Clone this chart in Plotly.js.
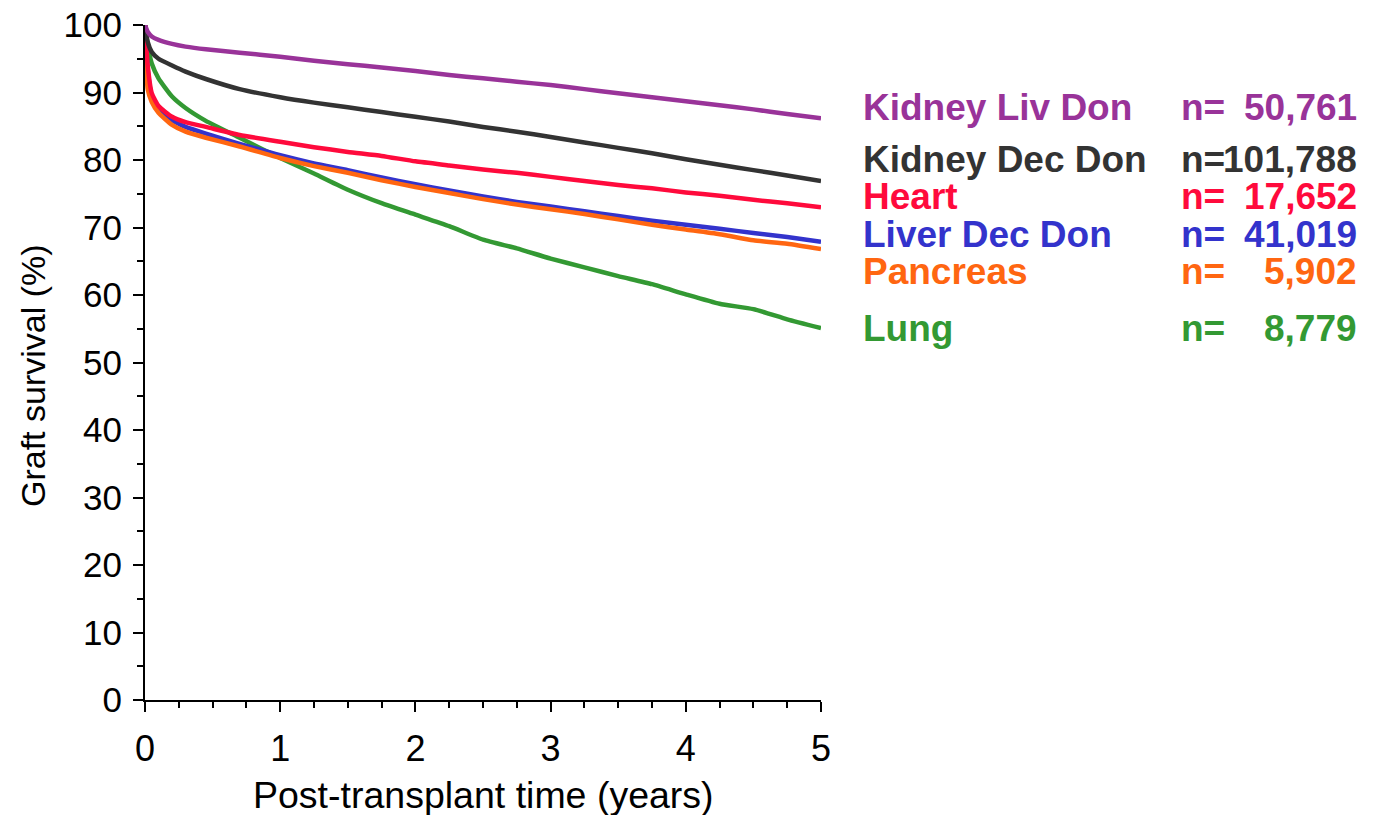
<!DOCTYPE html>
<html>
<head>
<meta charset="utf-8">
<script src="https://cdn.plot.ly/plotly-3.0.1.min.js"></script>
<style>
html,body{margin:0;padding:0;background:#fff;}
#chart{width:1378px;height:815px;}
</style>
</head>
<body>
<div id="chart"></div>
<script>
// Post-transplant time (years)
const years = [0, 0.02, 0.05, 0.1, 0.2, 0.3, 0.45, 0.7, 1, 1.25, 1.5, 1.75, 2, 2.25, 2.5, 2.75, 3, 3.25, 3.5, 3.75, 4, 4.25, 4.5, 4.75, 5];

// Graft survival (%)
const kidneyLivDon = [100, 99.0, 98.3, 97.8, 97.2, 96.8, 96.4, 95.9, 95.3, 94.7, 94.2, 93.7, 93.2, 92.6, 92.1, 91.6, 91.1, 90.5, 89.9, 89.3, 88.7, 88.1, 87.5, 86.8, 86.2];
const kidneyDecDon = [100, 97.5, 96.0, 95.0, 94.0, 93.1, 92.0, 90.5, 89.3, 88.5, 87.8, 87.1, 86.4, 85.7, 84.9, 84.2, 83.4, 82.6, 81.8, 81.0, 80.1, 79.3, 78.5, 77.7, 76.9];
const heart        = [100, 94.0, 89.9, 88.0, 86.4, 85.6, 84.9, 83.7, 82.7, 81.9, 81.2, 80.6, 79.8, 79.2, 78.6, 78.1, 77.5, 76.9, 76.3, 75.8, 75.2, 74.7, 74.1, 73.6, 73.0];
const liverDecDon  = [100, 93.5, 89.4, 87.6, 85.9, 84.9, 83.9, 82.4, 80.7, 79.5, 78.5, 77.4, 76.4, 75.5, 74.6, 73.8, 73.1, 72.4, 71.7, 71.0, 70.4, 69.8, 69.2, 68.6, 67.9];
const pancreas     = [100, 90.5, 88.6, 87.0, 85.2, 84.2, 83.3, 82.0, 80.3, 79.1, 78.1, 77.0, 76.0, 75.1, 74.2, 73.4, 72.7, 72.0, 71.2, 70.4, 69.7, 69.0, 68.1, 67.6, 66.8];
const lung         = [100, 97.0, 94.3, 92.1, 89.4, 87.7, 85.8, 83.3, 80.3, 78.0, 75.6, 73.6, 71.9, 70.2, 68.2, 66.9, 65.4, 64.1, 62.8, 61.6, 60.1, 58.7, 57.9, 56.4, 55.1];

const seriesNames = ["Kidney Liv Don", "Kidney Dec Don", "Heart", "Liver Dec Don", "Pancreas", "Lung"];
const seriesN = ["50,761", "101,788", "17,652", "41,019", "5,902", "8,779"];
const seriesValues = [kidneyLivDon, kidneyDecDon, heart, liverDecDon, pancreas, lung];
const seriesColors = ["#993399", "#333333", "#ff0a3c", "#3333cc", "#ff6611", "#339933"];
const labelY = [108, 159, 196, 234, 271, 329]; // pixel rows of legend text (layout)

const xTickVals = [0, 1, 2, 3, 4, 5];
const yTickVals = [0, 10, 20, 30, 40, 50, 60, 70, 80, 90, 100];

const W = 1378, H = 815;
const mL = 145, mR = W - 821, mT = 25, mB = H - 700;

// draw order: green first, then others so top lines overlay similar to reference
const order = [5, 3, 4, 2, 1, 0];
const traces = order.map(i => ({
  x: years,
  y: seriesValues[i],
  type: 'scatter',
  mode: 'lines',
  name: seriesNames[i],
  line: {color: seriesColors[i], width: 4.5, shape: 'spline', smoothing: 0.5},
  hoverinfo: 'x+y+name'
}));

const font = "'Liberation Sans', Arial, Helvetica, sans-serif";
const annotations = [];
function py(p) { return 1 - (p - mT) / (H - mT - mB); }
function px(p) { return (p - mL) / (W - mL - mR); }
seriesNames.forEach((nm, i) => {
  annotations.push({
    xref: 'paper', yref: 'paper', x: px(861), y: py(labelY[i]),
    xanchor: 'left', yanchor: 'middle', showarrow: false,
    text: '<b>' + nm + '</b>',
    font: {family: font, size: 37, color: seriesColors[i]}
  });
  annotations.push({
    xref: 'paper', yref: 'paper', x: px(1179), y: py(labelY[i]),
    xanchor: 'left', yanchor: 'middle', showarrow: false,
    text: '<b>n=</b>',
    font: {family: font, size: 37, color: seriesColors[i]}
  });
  annotations.push({
    xref: 'paper', yref: 'paper', x: px(1359), y: py(labelY[i]),
    xanchor: 'right', yanchor: 'middle', showarrow: false,
    text: '<b>' + seriesN[i] + '</b>',
    font: {family: font, size: 37, color: seriesColors[i]}
  });
});
// axis titles
annotations.push({
  xref: 'paper', yref: 'paper', x: px(483), y: py(795),
  xanchor: 'center', yanchor: 'middle', showarrow: false,
  text: 'Post-transplant time (years)',
  font: {family: font, size: 37.5, color: '#000'}
});
annotations.push({
  xref: 'paper', yref: 'paper', x: px(33), y: py(375),
  xanchor: 'center', yanchor: 'middle', showarrow: false, textangle: -90,
  text: 'Graft survival (%)',
  font: {family: font, size: 34, color: '#000'}
});

const layout = {
  width: W, height: H,
  margin: {l: mL, r: mR, t: mT, b: mB, pad: 0},
  paper_bgcolor: '#fff', plot_bgcolor: '#fff',
  showlegend: false,
  font: {family: font, color: '#000'},
  xaxis: {
    range: [0, 5], tickmode: 'array', tickvals: xTickVals,
    showgrid: false, zeroline: false,
    showline: true, linecolor: '#000', linewidth: 2,
    ticks: 'outside', ticklen: 10, tickwidth: 2, tickcolor: '#000',
    tickfont: {family: font, size: 36, color: '#000'},
    ticklabelstandoff: 6,
    minor: {dtick: 0.25, tick0: 0, ticks: 'outside', ticklen: 6, tickwidth: 1.5, tickcolor: '#000', showgrid: false},
    fixedrange: true
  },
  yaxis: {
    range: [0, 100], tickmode: 'array', tickvals: yTickVals,
    showgrid: false, zeroline: false,
    showline: true, linecolor: '#000', linewidth: 2,
    ticks: 'outside', ticklen: 10, tickwidth: 2, tickcolor: '#000',
    tickfont: {family: font, size: 35, color: '#000'},
    ticklabelstandoff: 4,
    minor: {dtick: 5, tick0: 0, ticks: 'outside', ticklen: 6, tickwidth: 1.5, tickcolor: '#000', showgrid: false},
    fixedrange: true
  },
  annotations: annotations
};

Plotly.newPlot('chart', traces, layout, {displayModeBar: false, responsive: false});
</script>
</body>
</html>
